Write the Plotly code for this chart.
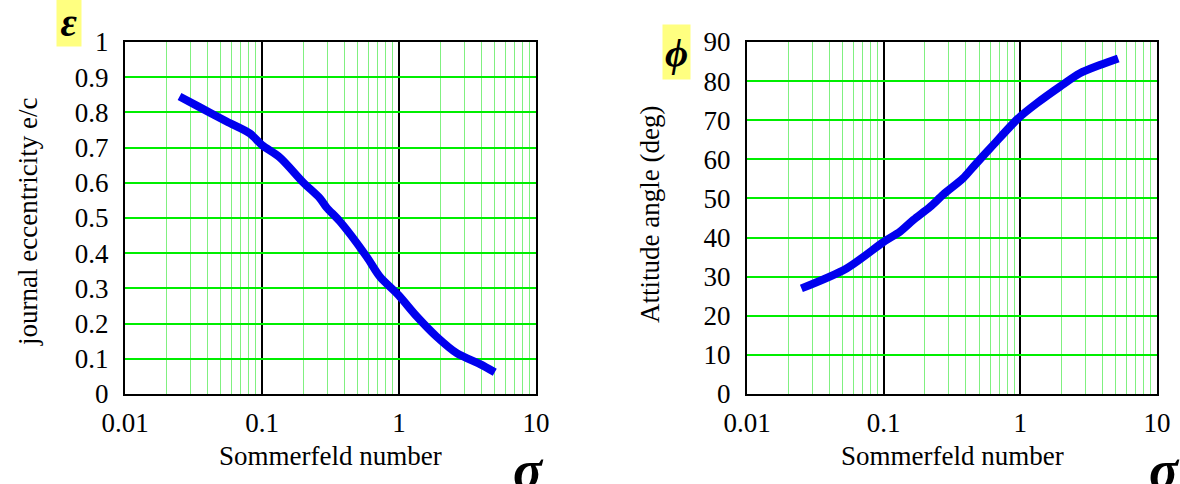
import plotly.graph_objects as go

# Data
sommerfeld_ecc = [0.025, 0.035, 0.0552, 0.0817, 0.1, 0.135, 0.2, 0.265, 0.296, 0.371, 0.581, 0.726, 0.99, 1.35, 1.88, 2.64, 3.9, 5.0]
eccentricity = [0.845, 0.815, 0.774, 0.740, 0.707, 0.672, 0.601, 0.556, 0.530, 0.490, 0.390, 0.333, 0.281, 0.220, 0.163, 0.116, 0.085, 0.062]

sommerfeld_phi = [0.025, 0.0535, 0.1, 0.1315, 0.165, 0.218, 0.273, 0.382, 0.453, 0.634, 0.966, 1.316, 1.95, 2.73, 3.82, 5.2]
attitude = [27.0, 32.1, 38.9, 41.5, 44.5, 47.8, 51.0, 55.2, 58.1, 63.7, 70.5, 74.3, 78.6, 82.0, 84.1, 85.8]

x_tickvals = [0.01, 0.1, 1, 10]
x_ticktext = ["0.01", "0.1", "1", "10"]
ecc_tickvals = [0, 0.1, 0.2, 0.3, 0.4, 0.5, 0.6, 0.7, 0.8, 0.9, 1]
ecc_ticktext = ["0", "0.1", "0.2", "0.3", "0.4", "0.5", "0.6", "0.7", "0.8", "0.9", "1"]
phi_tickvals = [0, 10, 20, 30, 40, 50, 60, 70, 80, 90]
phi_ticktext = ["0", "10", "20", "30", "40", "50", "60", "70", "80", "90"]

FONT = "Liberation Serif"
W, H = 1180, 484

fig = go.Figure()
fig.add_trace(go.Scatter(x=sommerfeld_ecc, y=eccentricity, mode="lines",
                         line=dict(color="#0000ee", width=8, shape="spline", smoothing=0.8),
                         xaxis="x", yaxis="y", showlegend=False))
fig.add_trace(go.Scatter(x=sommerfeld_phi, y=attitude, mode="lines",
                         line=dict(color="#0000ee", width=8, shape="spline", smoothing=0.8),
                         xaxis="x2", yaxis="y2", showlegend=False))

def xax(domain, anchor):
    return dict(type="log", range=[-2, 1], domain=domain, anchor=anchor,
                tickvals=x_tickvals, ticktext=x_ticktext,
                showgrid=True, gridcolor="black", gridwidth=1.5,
                minor=dict(dtick="D1", showgrid=True, gridcolor="#80f080", gridwidth=1.2, ticks=""),
                showline=True, mirror=True, linecolor="black", linewidth=2,
                ticks="outside", ticklen=4, tickcolor="rgba(0,0,0,0)",
                tickfont=dict(family=FONT, size=27, color="black"),
                zeroline=False, fixedrange=True, automargin=False)

def yax(domain, rng, tv, tt, anchor):
    return dict(range=rng, domain=domain, anchor=anchor,
                tickvals=tv, ticktext=tt,
                showgrid=True, gridcolor="#00ee00", gridwidth=1.5,
                showline=True, mirror=True, linecolor="black", linewidth=2,
                ticks="outside", ticklen=9, tickcolor="rgba(0,0,0,0)",
                tickfont=dict(family=FONT, size=27, color="black"),
                zeroline=False, fixedrange=True, automargin=False)

ydom = [1 - 394 / H, 1 - 42 / H]
fig.update_layout(
    width=W, height=H, autosize=False,
    margin=dict(l=0, r=0, t=0, b=0, autoexpand=False),
    paper_bgcolor="white", plot_bgcolor="white",
    xaxis=xax([125 / W, 536 / W], "y"),
    yaxis=yax(ydom, [0, 1], ecc_tickvals, ecc_ticktext, "x"),
    xaxis2=xax([747 / W, 1157 / W], "y2"),
    yaxis2=yax(ydom, [0, 90], phi_tickvals, phi_ticktext, "x2"),
)

def note(text, cx, cy, size, **kw):
    d = dict(text=text, x=cx / W, y=1 - cy / H, xref="paper", yref="paper",
             xanchor="center", yanchor="middle", showarrow=False,
             font=dict(family=FONT, size=size, color="black"))
    d.update(kw)
    return d

ann = [
    note("Sommerfeld number", 330, 456, 27),
    note("Sommerfeld number", 952, 456, 27),
    note("journal eccentricity e/c", 28, 222, 27, textangle=-90),
    note("Attitude angle (deg)", 650, 215, 27, textangle=-90),
    note("<b><i>ε</i></b>", 69, 22, 40, width=24, height=48, bgcolor="#ffff80", borderpad=0),
    note("<b><i>ϕ</i></b>", 676.5, 52, 40, width=27, height=54, bgcolor="#ffff80", borderpad=0),
    note("<b><i>σ</i></b>", 528, 470, 54),
    note("<b><i>σ</i></b>", 1164, 470, 54),
]
fig.update_layout(annotations=ann)

fig.write_html("out.html")
